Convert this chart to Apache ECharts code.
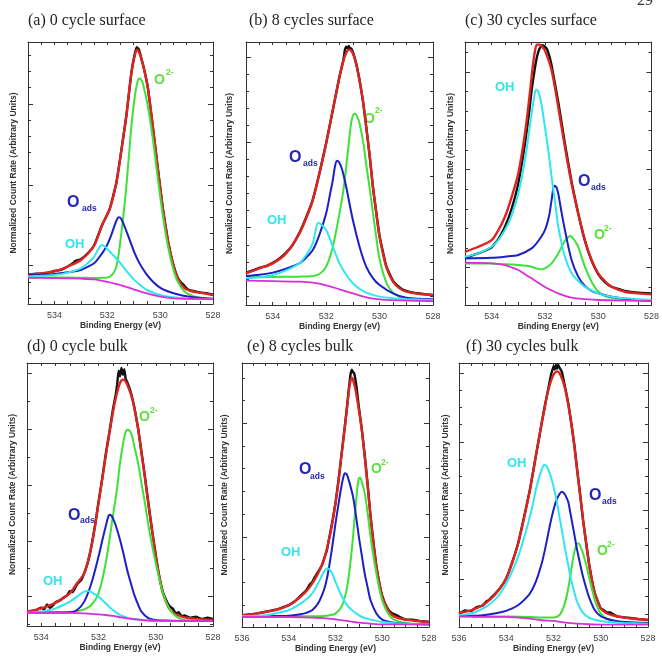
<!DOCTYPE html>
<html>
<head>
<meta charset="utf-8">
<script src="https://cdn.jsdelivr.net/npm/echarts@6/dist/echarts.min.js"></script>
<style>
html,body{margin:0;padding:0;background:#fff}
#chart{width:662px;height:662px}
</style>
</head>
<body>
<div id="chart"></div>
<script>
// tick labels on the binding energy axes (eV)
var evLabels = [536, 534, 532, 530, 528];

// (a) 0 cycle surface  -- [binding energy, normalized count rate]
var aData = [[535,0.89],[534.75,0.9],[534.5,0.905],[534.25,0.915],[534,0.935],[533.75,0.95],[533.5,0.99],[533.3,1.03],[533.2,1.06],[533.1,1.07],[533,1.08],[532.75,1.15],[532.5,1.25],[532.2,1.5],[531.91,1.7],[531.66,2.02],[531.47,2.42],[531.28,2.85],[531.09,3.38],[530.96,3.62],[530.88,3.7],[530.8,3.67],[530.75,3.61],[530.6,3.42],[530.46,3.19],[530.27,2.7],[530.08,2.18],[529.89,1.69],[529.7,1.3],[529.51,1.02],[529.33,0.85],[529.2,0.79],[529.1,0.76],[529,0.72],[528.9,0.7],[528.75,0.69],[528.5,0.67],[528.25,0.66],[528,0.645]];
var aFit = [[535,0.885],[534.5,0.905],[534,0.93],[533.5,0.99],[533,1.07],[532.5,1.25],[532.2,1.5],[531.91,1.7],[531.66,2.02],[531.47,2.42],[531.28,2.85],[531.09,3.38],[530.96,3.6],[530.88,3.67],[530.75,3.6],[530.6,3.42],[530.46,3.19],[530.27,2.7],[530.08,2.18],[529.89,1.69],[529.7,1.3],[529.51,1.02],[529.33,0.84],[529.07,0.72],[528.75,0.68],[528.5,0.667],[528,0.638]];
var aO2 = [[535,0.856],[534,0.854],[533,0.852],[532.5,0.849],[532.2,0.85],[531.91,0.864],[531.66,0.988],[531.47,1.4],[531.28,1.975],[531.09,2.716],[530.96,3.086],[530.88,3.24],[530.8,3.313],[530.72,3.3],[530.65,3.25],[530.46,2.963],[530.27,2.551],[530.08,2.058],[529.89,1.605],[529.7,1.235],[529.51,0.967],[529.33,0.802],[529.07,0.679],[528.75,0.625],[528.5,0.605],[528,0.588]];
var aOads = [[535,0.88],[534.5,0.888],[534,0.897],[533.5,0.918],[533,0.947],[532.75,0.985],[532.5,1.03],[532.29,1.111],[532.04,1.235],[531.85,1.379],[531.72,1.502],[531.63,1.575],[531.56,1.598],[531.47,1.578],[531.34,1.481],[531.15,1.317],[530.96,1.152],[530.78,1.029],[530.52,0.897],[530.27,0.802],[530.02,0.733],[529.77,0.691],[529.39,0.65],[528.89,0.617],[528,0.593]];
var aOH = [[535,0.868],[534.5,0.875],[534,0.885],[533.5,0.915],[533,0.967],[532.75,1.03],[532.5,1.11],[532.35,1.2],[532.2,1.255],[532.05,1.226],[531.9,1.173],[531.75,1.12],[531.5,1.03],[531.25,0.926],[531,0.831],[530.75,0.761],[530.5,0.7],[530,0.638],[529.5,0.609],[529,0.595],[528,0.588]];
var aBg = [[535,0.85],[534,0.848],[533,0.84],[532.5,0.831],[532,0.8],[531.5,0.761],[531,0.708],[530.5,0.658],[530,0.617],[529.5,0.597],[528,0.588]];

// (b) 8 cycles surface
var bData = [[535,0.47],[534.75,0.5],[534.5,0.53],[534.25,0.55],[534,0.59],[533.75,0.64],[533.5,0.71],[533.25,0.8],[533,0.94],[532.75,1.12],[532.5,1.33],[532.25,1.64],[532,1.99],[531.75,2.38],[531.5,2.77],[531.35,2.97],[531.3,3.08],[531.25,3.12],[531.2,3.1],[531.15,3.13],[531.1,3.09],[531.05,3.1],[530.95,3.01],[530.85,2.89],[530.75,2.73],[530.62,2.48],[530.5,2.18],[530.37,1.84],[530.25,1.48],[530.12,1.17],[530,0.9],[529.75,0.55],[529.5,0.38],[529.25,0.3],[529.1,0.27],[529,0.26],[528.75,0.24],[528.5,0.23],[528.25,0.22],[528,0.21]];
var bFit = [[535,0.466],[534.5,0.524],[534,0.583],[533.5,0.7],[533,0.934],[532.75,1.11],[532.5,1.324],[532.25,1.635],[532,1.986],[531.75,2.376],[531.5,2.766],[531.35,2.96],[531.25,3.047],[531.15,3.086],[531.05,3.07],[530.95,3.0],[530.85,2.88],[530.75,2.727],[530.62,2.48],[530.5,2.181],[530.37,1.84],[530.25,1.48],[530.12,1.17],[530,0.895],[529.75,0.544],[529.5,0.368],[529.25,0.29],[529,0.251],[528.5,0.224],[528,0.212]];
var bO2 = [[535,0.42],[534,0.424],[533,0.427],[532.5,0.435],[532.25,0.458],[532,0.544],[531.75,0.778],[531.5,1.168],[531.35,1.45],[531.25,1.713],[531.15,2.0],[531.05,2.25],[530.94,2.337],[530.85,2.31],[530.75,2.22],[530.6,1.98],[530.5,1.74],[530.37,1.46],[530.25,1.18],[530.12,0.88],[530,0.63],[529.75,0.36],[529.5,0.24],[529.25,0.19],[529,0.173],[528.5,0.16],[528,0.154]];
var bOads = [[535,0.435],[534.5,0.45],[534,0.474],[533.5,0.52],[533,0.583],[532.75,0.65],[532.5,0.739],[532.25,0.92],[532,1.168],[531.85,1.4],[531.75,1.558],[531.68,1.7],[531.6,1.784],[531.52,1.77],[531.4,1.68],[531.25,1.48],[531,1.09],[530.75,0.778],[530.5,0.544],[530.25,0.41],[530,0.33],[529.5,0.232],[529,0.181],[528,0.162]];
var bOH = [[535,0.407],[534.5,0.42],[534,0.446],[533.5,0.5],[533,0.583],[532.75,0.68],[532.5,0.817],[532.4,0.96],[532.3,1.058],[532.2,1.04],[532,0.973],[531.75,0.778],[531.5,0.583],[531.25,0.45],[531,0.349],[530.75,0.285],[530.5,0.24],[530,0.193],[529.5,0.175],[529,0.166],[528,0.154]];
var bBg = [[535,0.38],[534,0.374],[533,0.368],[532.5,0.357],[532,0.326],[531.5,0.279],[531,0.232],[530.5,0.185],[530,0.162],[529,0.146],[528,0.142]];

// (c) 30 cycles surface
var cData = [[535,1.092],[534.75,1.12],[534.5,1.143],[534.25,1.17],[534,1.204],[533.75,1.29],[533.5,1.416],[533.25,1.6],[533,1.859],[532.75,2.267],[532.6,2.57],[532.5,2.813],[532.4,3.0],[532.3,3.153],[532.2,3.24],[532.1,3.273],[532,3.26],[531.9,3.221],[531.75,3.068],[531.5,2.693],[531.25,2.267],[531,1.876],[530.75,1.552],[530.5,1.273],[530.25,1.07],[530,0.932],[529.75,0.85],[529.5,0.802],[529.25,0.78],[529,0.758],[528.5,0.74],[528,0.734]];
var cFit = [[535,1.16],[534.5,1.211],[534,1.279],[533.75,1.38],[533.5,1.518],[533.25,1.72],[533,1.961],[532.75,2.37],[532.6,2.7],[532.5,2.949],[532.4,3.17],[532.3,3.279],[532.2,3.28],[532.1,3.256],[532,3.221],[531.75,3.017],[531.5,2.642],[531.25,2.233],[531,1.859],[530.75,1.552],[530.5,1.279],[530.25,1.075],[530,0.939],[529.75,0.86],[529.5,0.802],[529,0.751],[528.5,0.734],[528,0.724]];
var cO2 = [[535,1.041],[534,1.041],[533.5,1.033],[533,1.024],[532.5,1.007],[532.2,0.98],[532,0.99],[531.75,1.041],[531.5,1.143],[531.25,1.273],[531.12,1.31],[531.05,1.32],[530.95,1.3],[530.85,1.26],[530.75,1.211],[530.5,1.007],[530.25,0.853],[530,0.751],[529.75,0.71],[529.5,0.69],[529,0.673],[528,0.659]];
var cOads = [[535,1.092],[534,1.099],[533.5,1.11],[533,1.126],[532.5,1.194],[532.25,1.27],[532,1.382],[531.85,1.52],[531.75,1.688],[531.65,1.835],[531.57,1.82],[531.5,1.756],[531.4,1.6],[531.25,1.382],[531,1.075],[530.75,0.905],[530.5,0.809],[530.25,0.76],[530,0.734],[529.5,0.7],[529,0.68],[528,0.659]];
var cOH = [[535,1.109],[534.5,1.143],[534,1.211],[533.75,1.28],[533.5,1.382],[533.25,1.53],[533,1.756],[532.75,2.097],[532.6,2.38],[532.5,2.574],[532.4,2.75],[532.33,2.82],[532.25,2.8],[532.15,2.7],[532,2.438],[531.85,2.15],[531.75,1.927],[531.6,1.63],[531.5,1.416],[531.25,1.109],[531,0.939],[530.75,0.86],[530.5,0.8],[530,0.734],[529.5,0.7],[529,0.683],[528,0.666]];
var cBg = [[535,1.048],[534.5,1.046],[534,1.041],[533.5,1.024],[533.25,1.0],[533,0.973],[532.75,0.93],[532.5,0.888],[532.25,0.843],[532,0.8],[531.75,0.765],[531.5,0.734],[531,0.69],[530.5,0.675],[530,0.666],[529,0.66],[528,0.656]];

// (d) 0 cycle bulk
var dData = [[534.5,0.72],[534.3,0.74],[534.2,0.75],[534.1,0.78],[534,0.8],[533.9,0.77],[533.8,0.86],[533.7,0.8],[533.6,0.84],[533.5,0.9],[533.4,0.92],[533.3,0.95],[533.2,0.99],[533.1,1.02],[533,1.1],[532.9,1.08],[532.75,1.22],[532.6,1.3],[532.5,1.42],[532.37,1.62],[532.25,1.9],[532.12,2.28],[532,2.7],[531.87,3.12],[531.75,3.55],[531.62,3.95],[531.5,4.35],[531.4,4.62],[531.35,4.8],[531.3,5.05],[531.25,4.95],[531.2,5.1],[531.15,4.98],[531.1,5.08],[531.05,4.9],[531,4.85],[530.87,4.66],[530.75,4.4],[530.62,4.03],[530.5,3.6],[530.37,3.12],[530.25,2.65],[530.12,2.16],[530,1.75],[529.9,1.42],[529.75,1.08],[529.6,0.9],[529.5,0.82],[529.4,0.78],[529.3,0.7],[529.2,0.72],[529.1,0.65],[529,0.66],[528.8,0.62],[528.6,0.64],[528.4,0.6],[528.2,0.62],[528,0.6]];
var dFit = [[534.5,0.731],[534.25,0.755],[534,0.79],[533.75,0.835],[533.5,0.892],[533.25,0.97],[533,1.06],[532.75,1.24],[532.5,1.419],[532.25,1.898],[532,2.677],[531.75,3.515],[531.5,4.293],[531.37,4.62],[531.25,4.832],[531.15,4.892],[531.07,4.87],[531,4.802],[530.87,4.63],[530.75,4.383],[530.62,4.02],[530.5,3.575],[530.37,3.1],[530.25,2.617],[530.12,2.15],[530,1.719],[529.87,1.34],[529.75,1.06],[529.62,0.88],[529.5,0.76],[529.25,0.67],[529,0.629],[528.5,0.593],[528,0.581]];
var dO2 = [[534.5,0.713],[533.5,0.718],[533,0.725],[532.75,0.74],[532.5,0.772],[532.25,0.85],[532,1.06],[531.75,1.599],[531.5,2.437],[531.35,2.95],[531.25,3.395],[531.15,3.72],[531.07,3.92],[531,3.994],[530.92,3.98],[530.83,3.88],[530.75,3.695],[530.62,3.4],[530.5,3.036],[530.37,2.65],[530.25,2.257],[530.12,1.9],[530,1.599],[529.75,1.06],[529.5,0.76],[529.25,0.629],[529,0.581],[528.5,0.568],[528,0.563]];
var dOads = [[534.5,0.713],[533.5,0.715],[533,0.719],[532.75,0.76],[532.5,0.91],[532.25,1.24],[532,1.719],[531.85,2.05],[531.75,2.257],[531.68,2.4],[531.62,2.467],[531.55,2.45],[531.5,2.407],[531.4,2.28],[531.25,2.018],[531.12,1.75],[531,1.479],[530.87,1.24],[530.75,1.03],[530.62,0.86],[530.5,0.731],[530.25,0.611],[530,0.581],[529.5,0.568],[529,0.563],[528,0.563]];
var dOH = [[534.5,0.713],[534.25,0.72],[534,0.731],[533.75,0.755],[533.5,0.79],[533.25,0.845],[533,0.91],[532.75,1.0],[532.6,1.06],[532.5,1.09],[532.4,1.102],[532.3,1.095],[532.2,1.065],[532,1.0],[531.75,0.88],[531.5,0.76],[531.25,0.671],[531,0.623],[530.75,0.597],[530.5,0.581],[530,0.569],[528,0.563]];
var dBg = [[534.5,0.713],[533.5,0.713],[533,0.71],[532.5,0.7],[532,0.683],[531.75,0.67],[531.5,0.653],[531.25,0.632],[531,0.611],[530.75,0.594],[530.5,0.581],[530.25,0.57],[530,0.565],[529,0.563],[528,0.563]];

// (e) 8 cycles bulk
var eData = [[536,0.31],[535.75,0.315],[535.5,0.32],[535.25,0.33],[535,0.34],[534.75,0.35],[534.5,0.36],[534.25,0.38],[534,0.4],[533.75,0.43],[533.5,0.48],[533.25,0.53],[533.1,0.58],[533,0.6],[532.9,0.64],[532.75,0.69],[532.6,0.74],[532.5,0.8],[532.37,0.88],[532.25,1.01],[532.12,1.15],[532,1.3],[531.87,1.5],[531.75,1.71],[531.62,1.94],[531.5,2.16],[531.42,2.32],[531.35,2.44],[531.3,2.47],[531.25,2.45],[531.2,2.44],[531.1,2.32],[531,2.14],[530.87,1.94],[530.75,1.72],[530.62,1.45],[530.5,1.18],[530.37,0.94],[530.25,0.74],[530.12,0.59],[530,0.48],[529.8,0.38],[529.6,0.33],[529.4,0.31],[529.2,0.29],[529,0.27],[528.7,0.27],[528.4,0.26],[528,0.25]];
var eFit = [[536,0.309],[535.5,0.32],[535,0.338],[534.5,0.359],[534,0.397],[533.75,0.43],[533.5,0.471],[533.25,0.52],[533,0.588],[532.75,0.676],[532.5,0.794],[532.25,1.0],[532.12,1.14],[532,1.294],[531.87,1.49],[531.75,1.706],[531.62,1.93],[531.5,2.147],[531.42,2.3],[531.35,2.38],[531.3,2.4],[531.25,2.382],[531.15,2.3],[531,2.118],[530.87,1.93],[530.75,1.706],[530.62,1.44],[530.5,1.176],[530.37,0.93],[530.25,0.735],[530.12,0.58],[530,0.471],[529.75,0.353],[529.5,0.3],[529,0.271],[528.5,0.259],[528,0.25]];
var eO2 = [[536,0.3],[534,0.3],[533,0.3],[532.5,0.303],[532.25,0.309],[532,0.324],[531.75,0.382],[531.6,0.47],[531.5,0.559],[531.37,0.76],[531.25,1.0],[531.17,1.2],[531.1,1.353],[531.05,1.46],[531,1.515],[530.95,1.52],[530.87,1.48],[530.75,1.382],[530.62,1.2],[530.5,1.0],[530.37,0.82],[530.25,0.676],[530.12,0.54],[530,0.441],[529.75,0.324],[529.5,0.271],[529,0.241],[528,0.229]];
var eOads = [[536,0.3],[535,0.302],[534,0.306],[533.5,0.318],[533.25,0.33],[533,0.353],[532.75,0.412],[532.5,0.529],[532.37,0.63],[532.25,0.765],[532.12,0.94],[532,1.118],[531.87,1.29],[531.75,1.441],[531.67,1.52],[531.6,1.559],[531.52,1.55],[531.42,1.49],[531.25,1.353],[531.12,1.18],[531,1.0],[530.87,0.83],[530.75,0.676],[530.62,0.55],[530.5,0.441],[530.25,0.324],[530,0.271],[529.5,0.244],[529,0.235],[528,0.229]];
var eOH = [[536,0.3],[535.5,0.304],[535,0.309],[534.5,0.329],[534,0.353],[533.75,0.38],[533.5,0.412],[533.25,0.45],[533,0.5],[532.75,0.588],[532.6,0.65],[532.5,0.691],[532.42,0.712],[532.35,0.721],[532.27,0.715],[532.15,0.68],[532,0.603],[531.87,0.54],[531.75,0.485],[531.5,0.397],[531.25,0.347],[531,0.309],[530.75,0.285],[530.5,0.271],[530,0.25],[529.5,0.24],[529,0.235],[528,0.229]];
var eBg = [[536,0.294],[534,0.294],[533,0.288],[532.5,0.285],[532,0.274],[531.75,0.266],[531.5,0.259],[531.25,0.251],[531,0.244],[530.5,0.235],[530,0.229],[528,0.229]];

// (f) 30 cycles bulk
var fData = [[536,0.5],[535.75,0.55],[535.5,0.54],[535.25,0.6],[535,0.62],[534.85,0.68],[534.75,0.7],[534.6,0.75],[534.5,0.78],[534.25,0.88],[534,1.02],[533.75,1.25],[533.5,1.52],[533.25,1.9],[533,2.3],[532.75,2.79],[532.5,3.27],[532.37,3.52],[532.25,3.72],[532.15,3.9],[532.1,3.98],[532,4.1],[531.95,4.05],[531.9,4.12],[531.85,4.06],[531.8,4.12],[531.75,4.08],[531.65,4.02],[531.5,3.78],[531.37,3.55],[531.25,3.28],[531.12,2.96],[531,2.6],[530.87,2.23],[530.75,1.87],[530.62,1.54],[530.5,1.24],[530.37,0.99],[530.25,0.8],[530.12,0.68],[530,0.58],[529.85,0.55],[529.75,0.52],[529.6,0.52],[529.5,0.5],[529.4,0.48],[529.25,0.46],[529,0.45],[528.75,0.44],[528.5,0.43],[528.25,0.42],[528,0.41]];
var fFit = [[536,0.515],[535.75,0.53],[535.5,0.553],[535.25,0.585],[535,0.626],[534.75,0.69],[534.5,0.772],[534.25,0.88],[534,1.015],[533.75,1.24],[533.5,1.524],[533.25,1.89],[533,2.3],[532.75,2.786],[532.5,3.272],[532.37,3.5],[532.25,3.709],[532.12,3.87],[532,3.976],[531.85,4.024],[531.75,4.0],[531.62,3.9],[531.5,3.757],[531.37,3.53],[531.25,3.272],[531.12,2.95],[531,2.592],[530.87,2.22],[530.75,1.864],[530.62,1.53],[530.5,1.233],[530.37,0.98],[530.25,0.796],[530.12,0.67],[530,0.578],[529.75,0.51],[529.5,0.481],[529,0.447],[528.5,0.427],[528,0.417]];
var fO2 = [[536,0.466],[534,0.462],[533,0.456],[532.5,0.447],[532,0.447],[531.75,0.481],[531.62,0.56],[531.5,0.675],[531.37,0.88],[531.25,1.136],[531.17,1.31],[531.1,1.427],[531.05,1.49],[531,1.524],[530.93,1.525],[530.85,1.47],[530.75,1.379],[530.62,1.22],[530.5,1.039],[530.37,0.86],[530.25,0.699],[530.12,0.58],[530,0.505],[529.75,0.432],[529.5,0.398],[529,0.379],[528,0.359]];
var fOads = [[536,0.466],[535.5,0.472],[535,0.481],[534.5,0.505],[534,0.544],[533.75,0.58],[533.5,0.626],[533.25,0.7],[533,0.796],[532.75,0.966],[532.5,1.233],[532.37,1.42],[532.25,1.621],[532.12,1.84],[532,2.01],[531.87,2.16],[531.75,2.24],[531.65,2.277],[531.55,2.25],[531.45,2.19],[531.37,2.12],[531.25,1.9],[531.12,1.66],[531,1.43],[530.87,1.22],[530.75,1.039],[530.62,0.88],[530.5,0.748],[530.25,0.553],[530,0.466],[529.75,0.43],[529.5,0.408],[529,0.383],[528,0.369]];
var fOH = [[536,0.481],[535.75,0.49],[535.5,0.505],[535.25,0.535],[535,0.578],[534.75,0.63],[534.5,0.7],[534.25,0.8],[534,0.942],[533.75,1.12],[533.5,1.33],[533.25,1.6],[533,1.913],[532.87,2.1],[532.75,2.3],[532.62,2.47],[532.5,2.592],[532.4,2.665],[532.3,2.65],[532.2,2.58],[532.1,2.48],[532,2.35],[531.87,2.15],[531.75,1.913],[531.62,1.67],[531.5,1.427],[531.37,1.2],[531.25,0.99],[531.12,0.82],[531,0.675],[530.75,0.515],[530.5,0.447],[530.25,0.415],[530,0.398],[529.5,0.379],[529,0.369],[528,0.359]];
var fBg = [[536,0.466],[535.5,0.46],[535,0.456],[534.5,0.456],[534,0.456],[533.5,0.447],[533,0.432],[532.5,0.408],[532,0.398],[531.5,0.374],[531,0.359],[530.5,0.35],[530,0.345],[528,0.345]];

var lineColors = ['#111111', '#dc2420', '#3ee03a', '#1c1fc4', '#30e6f0', '#d92fd9'];
var lineWidths = [2.4, 2.4, 2, 2, 2, 1.8];
var sans = '"Liberation Sans", Arial, sans-serif';
var serif = '"Liberation Serif", "DejaVu Serif", serif';

// grid boxes are [left, top, width, height] in px; oh/oads/o2 say where the peak names sit
var panels = [
  {title:'(a) 0 cycle surface', tpos:[28,21], box:[28,42,185,262], ngap:10, x:[528,535], y:[0.527,3.765], major:[1,2,3], step:0.2,
   lines:[aData,aFit,aO2,aOads,aOH,aBg], oh:[65,244], oads:[67,203,82,209], o2:[154,80,166,73]},
  {title:'(b) 8 cycles surface', tpos:[249,21], box:[246,42,187,263], ngap:12, x:[528,535], y:[0.095,3.175], major:[1,2,3], step:0.2,
   lines:[bData,bFit,bO2,bOads,bOH,bBg], oh:[267,220], oads:[289,158,303,164], o2:[364,119,375,111]},
  {title:'(c) 30 cycles surface', tpos:[465,21], box:[465,42,188,263], ngap:10, x:[528,535], y:[0.615,3.307], major:[1,2,3], step:0.2,
   lines:[cData,cFit,cO2,cOads,cOH,cBg], oh:[495,87], oads:[578,182,591,188], o2:[594,235,604,229]},
  {title:'(d) 0 cycle bulk', tpos:[27,347], box:[27,363,186,263], ngap:10, x:[528,534.5], y:[0.473,5.19], major:[1,2,3,4,5], step:0.5,
   lines:[dData,dFit,dO2,dOads,dOH,dBg], oh:[43,581], oads:[68,516,80,521], o2:[139,417,150,411]},
  {title:'(e) 8 cycles bulk', tpos:[247,347], box:[242,363,187,264], ngap:13, x:[528,536], y:[0.206,2.53], major:[1,2], step:0.2,
   lines:[eData,eFit,eO2,eOads,eOH,eBg], oh:[281,552], oads:[299,470,310,477], o2:[371,469,381,463]},
  {title:'(f) 30 cycles bulk', tpos:[466,347], box:[459,363,189,264], ngap:9, x:[528,536], y:[0.31,4.146], major:[1,2,3,4], step:0.25,
   lines:[fData,fFit,fO2,fOads,fOH,fBg], oh:[507,463], oads:[589,496,602,502], o2:[597,551,607,545]}
];

function tickList(lo, hi, step){
  var out = [];
  var v = Math.ceil(lo / step - 1e-9) * step;
  for (; v <= hi + 1e-9; v += step) out.push(+v.toFixed(4));
  return out;
}

function txt(x, y, s, size, color, family, weight){
  return {type:'text', x:x, y:y, silent:true,
    style:{text:s, fill:color, fontSize:size, fontFamily:family, fontWeight:weight || 'normal', align:'left', verticalAlign:'middle'}};
}

var grids = [], xAxes = [], yAxes = [], series = [], graphics = [];
var axisColor = '#333';

panels.forEach(function(p, i){
  grids.push({left:p.box[0], top:p.box[1], width:p.box[2], height:p.box[3], containLabel:false});
  ['bottom', 'top'].forEach(function(pos){
    var ax = {gridIndex:i, type:'value', inverse:true, min:p.x[0], max:p.x[1], interval:0.5, position:pos,
      axisLine:{show:true, onZero:false, lineStyle:{color:axisColor, width:1}},
      axisTick:{show:true, inside:true, length:3, lineStyle:{color:axisColor}},
      axisLabel:{show:pos == 'bottom', margin:7, fontSize:9, color:'#444', fontFamily:sans,
        formatter:function(v){ return evLabels.indexOf(v) >= 0 ? String(v) : ''; }},
      splitLine:{show:false}};
    if (pos == 'bottom') {
      ax.name = 'Binding Energy (eV)';
      ax.nameLocation = 'middle';
      ax.nameGap = 17;
      ax.nameTextStyle = {fontSize:8.5, fontWeight:'bold', color:'#333', fontFamily:sans};
    }
    xAxes.push(ax);
  });
  var minors = tickList(p.y[0], p.y[1], p.step);
  ['left', 'right'].forEach(function(pos){
    var major = {gridIndex:i, type:'value', min:p.y[0], max:p.y[1], position:pos,
      axisLine:{show:true, onZero:false, lineStyle:{color:axisColor, width:1}},
      axisTick:{show:true, inside:true, length:5, customValues:p.major, lineStyle:{color:axisColor}},
      axisLabel:{show:false}, splitLine:{show:false}};
    if (pos == 'left') {
      major.name = 'Normalized Count Rate (Arbitrary Units)';
      major.nameLocation = 'middle';
      major.nameGap = p.ngap;
      major.nameTextStyle = {fontSize:8.5, fontWeight:'bold', color:'#333', fontFamily:sans};
    }
    yAxes.push(major);
    yAxes.push({gridIndex:i, type:'value', min:p.y[0], max:p.y[1], position:pos,
      axisLine:{show:false}, axisTick:{show:true, inside:true, length:3, customValues:minors, lineStyle:{color:axisColor}},
      axisLabel:{show:false}, splitLine:{show:false}});
  });
  p.lines.forEach(function(d, k){
    series.push({type:'line', xAxisIndex:2 * i, yAxisIndex:4 * i, data:d, symbol:'none', showSymbol:false,
      smooth:k == 0 ? 0.1 : 0.3, silent:true, animation:false,
      lineStyle:{color:lineColors[k], width:lineWidths[k]}, z:2 + k});
  });
  graphics.push(txt(p.tpos[0], p.tpos[1], p.title, 16, '#222', serif));
  graphics.push(txt(p.oh[0], p.oh[1], 'OH', 13, '#33e4ee', sans, 'bold'));
  graphics.push(txt(p.oads[0], p.oads[1], 'O', 16, '#2326b8', sans, 'bold'));
  graphics.push(txt(p.oads[2], p.oads[3], 'ads', 8.5, '#2326b8', sans, 'bold'));
  graphics.push(txt(p.o2[0], p.o2[1], 'O', 14, '#5ee03e', sans, 'bold'));
  graphics.push(txt(p.o2[2], p.o2[3], '2-', 8.5, '#5ee03e', sans, 'bold'));
});

// page number of the source document
graphics.push(txt(637, 1, '29', 16, '#333', serif));

var myChart = echarts.init(document.getElementById('chart'), null, {renderer:'canvas'});
myChart.setOption({
  animation:false,
  backgroundColor:'#ffffff',
  grid:grids,
  xAxis:xAxes,
  yAxis:yAxes,
  series:series,
  graphic:graphics
});
</script>
</body>
</html>
